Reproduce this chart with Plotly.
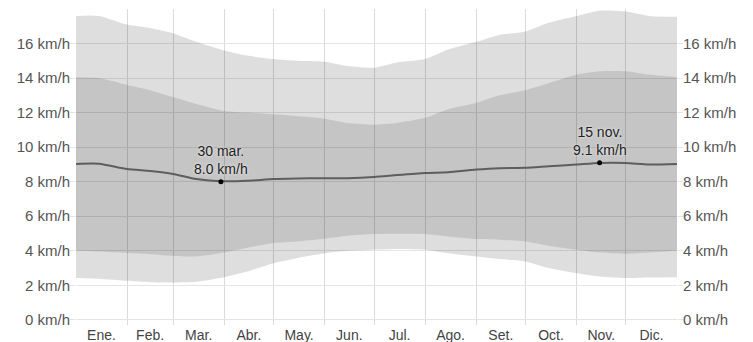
import plotly.graph_objects as go

# Day of year (0 = 1 Jan) for sample points
days = [0, 14, 31, 45, 59, 73, 90, 104, 120, 134, 151, 165, 181, 195,
        212, 226, 243, 257, 273, 287, 304, 318, 334, 348, 365]

p90 = [17.6, 17.6, 17.1, 16.9, 16.6, 16.1, 15.6, 15.3, 15.1, 15.0, 14.95, 14.7, 14.6, 14.9,
       15.1, 15.65, 16.1, 16.5, 16.7, 17.2, 17.6, 17.9, 17.85, 17.6, 17.55]
p75 = [14.05, 14.0, 13.6, 13.3, 12.9, 12.5, 12.1, 12.0, 11.9, 11.8, 11.65, 11.4, 11.3, 11.4,
       11.7, 12.2, 12.55, 13.0, 13.3, 13.7, 14.2, 14.4, 14.4, 14.2, 14.05]
p25 = [4.0, 3.95, 3.87, 3.8, 3.7, 3.67, 3.9, 4.17, 4.45, 4.54, 4.7, 4.87, 4.97, 4.99,
       4.97, 4.83, 4.68, 4.64, 4.54, 4.29, 4.06, 3.9, 3.83, 3.9, 4.0]
p10 = [2.42, 2.38, 2.26, 2.18, 2.16, 2.2, 2.47, 2.8, 3.28, 3.57, 3.86, 4.0, 4.06, 4.1,
       4.06, 3.86, 3.67, 3.52, 3.38, 3.0, 2.7, 2.51, 2.42, 2.45, 2.47]
mean = [9.03, 9.04, 8.73, 8.62, 8.45, 8.15, 8.02, 8.05, 8.15, 8.18, 8.2, 8.2, 8.27, 8.38,
        8.5, 8.55, 8.7, 8.78, 8.8, 8.89, 8.99, 9.08, 9.08, 9.0, 9.03]

month_starts = [0, 31, 59, 90, 120, 151, 181, 212, 243, 273, 304, 334, 365]
month_labels = ["Ene.", "Feb.", "Mar.", "Abr.", "May.", "Jun.", "Jul.", "Ago.", "Set.", "Oct.", "Nov.", "Dic."]
y_ticks = [0, 2, 4, 6, 8, 10, 12, 14, 16]
y_tick_labels = [f"{v} km/h" for v in y_ticks]

ext_days = [88, 318]
ext_vals = [8.0, 9.1]
ext_labels = ["30 mar.<br>8.0 km/h", "15 nov.<br>9.1 km/h"]

month_mids = [(a + b) / 2 for a, b in zip(month_starts[:-1], month_starts[1:])]

FONT = "Liberation Sans, Arial, sans-serif"
GRID = "#e4e4e4"
SPL = dict(shape="spline", smoothing=0.6)

fig = go.Figure()
fig.add_trace(go.Scatter(x=days, y=p90, mode="lines", line=dict(width=0, **SPL),
                         hoverinfo="skip", showlegend=False))
fig.add_trace(go.Scatter(x=days, y=p10, mode="lines", line=dict(width=0, **SPL),
                         fill="tonexty", fillcolor="rgba(0,0,0,0.13)", hoverinfo="skip", showlegend=False))
fig.add_trace(go.Scatter(x=days, y=p75, mode="lines", line=dict(width=0, **SPL),
                         hoverinfo="skip", showlegend=False))
fig.add_trace(go.Scatter(x=days, y=p25, mode="lines", line=dict(width=0, **SPL),
                         fill="tonexty", fillcolor="rgba(0,0,0,0.11)", hoverinfo="skip", showlegend=False))
fig.add_trace(go.Scatter(x=days, y=mean, mode="lines", line=dict(width=2, color="#5e5e5e", **SPL),
                         showlegend=False))
fig.add_trace(go.Scatter(x=ext_days, y=ext_vals, mode="markers", marker=dict(size=5, color="black"),
                         showlegend=False))
fig.add_trace(go.Scatter(x=[0], y=[0], yaxis="y2", mode="markers", marker=dict(opacity=0),
                         hoverinfo="skip", showlegend=False))

for d, v, t in zip(ext_days, ext_vals, ext_labels):
    fig.add_annotation(x=d, y=v, text=t, showarrow=False, yanchor="bottom", yshift=3,
                       font=dict(family=FONT, size=14, color="#222",
                                 shadow="0px 0px 3px rgba(255,255,255,0.9)"))

yax = dict(range=[-0.3, 18], tickmode="array", tickvals=y_ticks, ticktext=y_tick_labels,
           showgrid=True, gridcolor=GRID, gridwidth=1, zeroline=False,
           ticks="outside", ticklen=5, tickcolor=GRID, ticklabelstandoff=-3,
           tickfont=dict(family=FONT, size=15, color="#555"), showline=False, fixedrange=True)

fig.update_layout(
    width=753, height=342,
    margin=dict(l=76, r=76, t=9, b=17, autoexpand=False),
    paper_bgcolor="white", plot_bgcolor="white",
    xaxis=dict(range=[0, 365], tickvals=month_mids, ticktext=month_labels, showgrid=False,
               zeroline=False, ticks="", ticklen=0,
               tickfont=dict(family=FONT, size=14, color="#444"),
               minor=dict(tickvals=month_starts[1:-1], showgrid=True, gridcolor="#dadada", gridwidth=1,
                          ticks="outside", ticklen=0)),
    yaxis=yax,
    yaxis2=dict(yax, overlaying="y", side="right", matches="y"),
)

fig.write_html("out.html")
